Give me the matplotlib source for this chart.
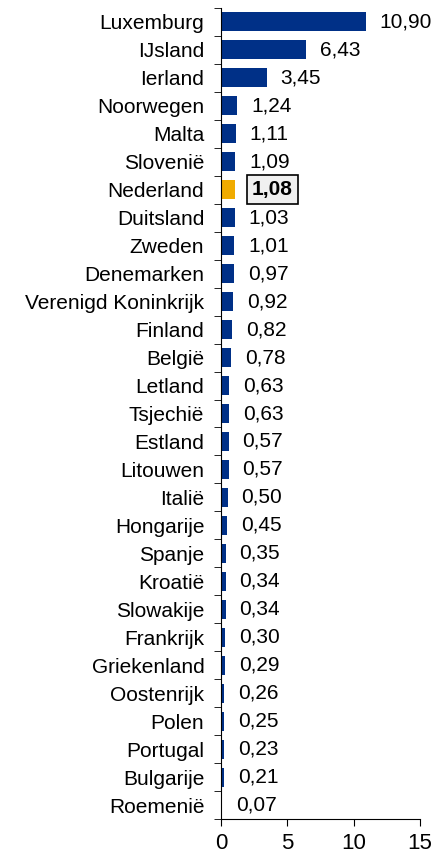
import matplotlib
matplotlib.use('Agg')
import matplotlib.pyplot as plt
import numpy as np

# data
countries = ['Luxemburg', 'IJsland', 'Ierland', 'Noorwegen', 'Malta', 'Slovenië',
             'Nederland', 'Duitsland', 'Zweden', 'Denemarken', 'Verenigd Koninkrijk',
             'Finland', 'België', 'Letland', 'Tsjechië', 'Estland', 'Litouwen',
             'Italië', 'Hongarije', 'Spanje', 'Kroatië', 'Slowakije', 'Frankrijk',
             'Griekenland', 'Oostenrijk', 'Polen', 'Portugal', 'Bulgarije', 'Roemenië']
values = [10.90, 6.43, 3.45, 1.24, 1.11, 1.09, 1.08, 1.03, 1.01, 0.97, 0.92,
          0.82, 0.78, 0.63, 0.63, 0.57, 0.57, 0.50, 0.45, 0.35, 0.34, 0.34,
          0.30, 0.29, 0.26, 0.25, 0.23, 0.21, 0.07]
highlight = 'Nederland'
xticks = [0, 5, 10, 15]

plt.rcParams['font.family'] = ['Liberation Sans', 'DejaVu Sans']

fig = plt.figure(figsize=(4.39, 8.55), dpi=100)
ax = fig.add_axes([221 / 439, 1 - 819 / 855, (420 - 221) / 439, (819 - 8) / 855])

n = len(countries)
y = np.arange(n)
colors = ['#F0AB00' if c == highlight else '#003087' for c in countries]
ax.barh(y, values, height=0.68, color=colors)

for yi, v, c in zip(y, values, countries):
    txt = '{:.2f}'.format(v).replace('.', ',')
    if c == highlight:
        ax.annotate(txt, (v, yi), xytext=(12, 0), textcoords='offset points',
                    va='center', ha='left', fontsize=15, fontweight='bold',
                    bbox=dict(boxstyle='square,pad=0.25', fc='#f0f0f0', ec='black', lw=1.2))
    else:
        ax.annotate(txt, (v, yi), xytext=(10, 0), textcoords='offset points',
                    va='center', ha='left', fontsize=15)

ax.set_ylim(n - 0.5, -0.5)
ax.set_xlim(0, 15)
ax.set_yticks(y)
ax.set_yticklabels(countries, fontsize=15)
ax.tick_params(axis='y', which='major', length=0, pad=12)
ax.set_yticks(np.arange(n + 1) - 0.5, minor=True)
ax.tick_params(axis='y', which='minor', length=5, direction='out')
ax.set_xticks(xticks)
ax.set_xticklabels([str(t) for t in xticks], fontsize=16)
ax.tick_params(axis='x', length=5, direction='out', pad=5)
ax.spines['top'].set_visible(False)
ax.spines['right'].set_visible(False)

fig.savefig('out.png', dpi=100)
